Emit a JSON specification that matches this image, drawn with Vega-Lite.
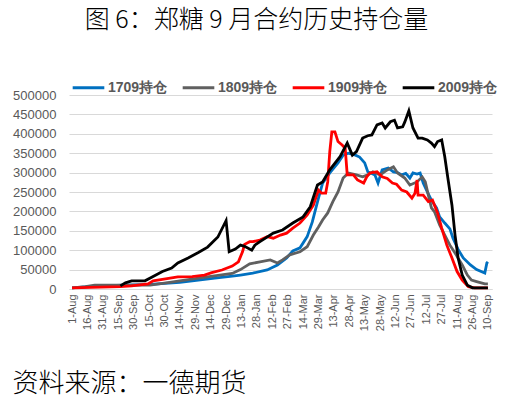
{
  "$schema": "https://vega.github.io/schema/vega-lite/v6.json",
  "width": 423,
  "height": 194,
  "autosize": "none",
  "padding": {"left": 69, "top": 95, "right": 20, "bottom": 109},
  "background": "white",
  "title": {
    "text": "图 6：郑糖 9 月合约历史持仓量",
    "font": "Noto Sans CJK SC",
    "fontSize": 25,
    "fontWeight": 300,
    "color": "#000000",
    "anchor": "middle",
    "frame": "group",
    "dx": -24,
    "offset": 37
  },
  "config": {
    "view": {"stroke": null},
    "axis": {
      "labelFont": "Liberation Sans",
      "labelColor": "#595959",
      "gridColor": "#d9d9d9",
      "gridWidth": 1,
      "domainColor": "#d9d9d9",
      "ticks": false
    }
  },
  "data": {
    "values": [
      {"series": "1709持仓", "date": "2018-08-01", "oi": 3000},
      {"series": "1709持仓", "date": "2018-08-28", "oi": 8000},
      {"series": "1709持仓", "date": "2018-10-16", "oi": 12000},
      {"series": "1709持仓", "date": "2018-11-14", "oi": 17000},
      {"series": "1709持仓", "date": "2018-12-18", "oi": 28000},
      {"series": "1709持仓", "date": "2019-01-04", "oi": 33000},
      {"series": "1709持仓", "date": "2019-01-12", "oi": 36000},
      {"series": "1709持仓", "date": "2019-01-24", "oi": 41000},
      {"series": "1709持仓", "date": "2019-02-07", "oi": 49000},
      {"series": "1709持仓", "date": "2019-02-17", "oi": 62000},
      {"series": "1709持仓", "date": "2019-02-26", "oi": 80000},
      {"series": "1709持仓", "date": "2019-03-04", "oi": 98000},
      {"series": "1709持仓", "date": "2019-03-11", "oi": 106000},
      {"series": "1709持仓", "date": "2019-03-18", "oi": 135000},
      {"series": "1709持仓", "date": "2019-03-23", "oi": 173000},
      {"series": "1709持仓", "date": "2019-03-26", "oi": 204000},
      {"series": "1709持仓", "date": "2019-03-29", "oi": 234000},
      {"series": "1709持仓", "date": "2019-04-02", "oi": 273000},
      {"series": "1709持仓", "date": "2019-04-09", "oi": 299000},
      {"series": "1709持仓", "date": "2019-04-17", "oi": 325000},
      {"series": "1709持仓", "date": "2019-04-22", "oi": 345000},
      {"series": "1709持仓", "date": "2019-04-27", "oi": 350000},
      {"series": "1709持仓", "date": "2019-05-04", "oi": 345000},
      {"series": "1709持仓", "date": "2019-05-08", "oi": 340000},
      {"series": "1709持仓", "date": "2019-05-13", "oi": 325000},
      {"series": "1709持仓", "date": "2019-05-16", "oi": 302000},
      {"series": "1709持仓", "date": "2019-05-23", "oi": 294000},
      {"series": "1709持仓", "date": "2019-05-26", "oi": 273000},
      {"series": "1709持仓", "date": "2019-05-30", "oi": 307000},
      {"series": "1709持仓", "date": "2019-06-05", "oi": 312000},
      {"series": "1709持仓", "date": "2019-06-10", "oi": 302000},
      {"series": "1709持仓", "date": "2019-06-14", "oi": 300000},
      {"series": "1709持仓", "date": "2019-06-18", "oi": 294000},
      {"series": "1709持仓", "date": "2019-06-22", "oi": 298000},
      {"series": "1709持仓", "date": "2019-06-26", "oi": 286000},
      {"series": "1709持仓", "date": "2019-06-29", "oi": 299000},
      {"series": "1709持仓", "date": "2019-07-03", "oi": 296000},
      {"series": "1709持仓", "date": "2019-07-06", "oi": 299000},
      {"series": "1709持仓", "date": "2019-07-09", "oi": 273000},
      {"series": "1709持仓", "date": "2019-07-13", "oi": 250000},
      {"series": "1709持仓", "date": "2019-07-17", "oi": 229000},
      {"series": "1709持仓", "date": "2019-07-22", "oi": 209000},
      {"series": "1709持仓", "date": "2019-07-25", "oi": 186000},
      {"series": "1709持仓", "date": "2019-07-30", "oi": 170000},
      {"series": "1709持仓", "date": "2019-08-04", "oi": 155000},
      {"series": "1709持仓", "date": "2019-08-07", "oi": 131000},
      {"series": "1709持仓", "date": "2019-08-12", "oi": 102000},
      {"series": "1709持仓", "date": "2019-08-17", "oi": 80000},
      {"series": "1709持仓", "date": "2019-08-24", "oi": 62000},
      {"series": "1709持仓", "date": "2019-08-30", "oi": 50000},
      {"series": "1709持仓", "date": "2019-09-07", "oi": 41000},
      {"series": "1709持仓", "date": "2019-09-09", "oi": 67000},
      {"series": "1709持仓", "date": "2019-09-10", "oi": 70000},

      {"series": "1809持仓", "date": "2018-08-01", "oi": 3000},
      {"series": "1809持仓", "date": "2018-08-14", "oi": 6000},
      {"series": "1809持仓", "date": "2018-08-23", "oi": 10000},
      {"series": "1809持仓", "date": "2018-10-16", "oi": 10000},
      {"series": "1809持仓", "date": "2018-11-04", "oi": 17000},
      {"series": "1809持仓", "date": "2018-12-02", "oi": 28000},
      {"series": "1809持仓", "date": "2019-01-04", "oi": 40000},
      {"series": "1809持仓", "date": "2019-01-12", "oi": 50000},
      {"series": "1809持仓", "date": "2019-01-21", "oi": 65000},
      {"series": "1809持仓", "date": "2019-01-31", "oi": 70000},
      {"series": "1809持仓", "date": "2019-02-10", "oi": 75000},
      {"series": "1809持仓", "date": "2019-02-17", "oi": 67000},
      {"series": "1809持仓", "date": "2019-02-22", "oi": 75000},
      {"series": "1809持仓", "date": "2019-03-01", "oi": 88000},
      {"series": "1809持仓", "date": "2019-03-11", "oi": 96000},
      {"series": "1809持仓", "date": "2019-03-18", "oi": 109000},
      {"series": "1809持仓", "date": "2019-03-24", "oi": 139000},
      {"series": "1809持仓", "date": "2019-03-29", "oi": 160000},
      {"series": "1809持仓", "date": "2019-04-02", "oi": 178000},
      {"series": "1809持仓", "date": "2019-04-07", "oi": 196000},
      {"series": "1809持仓", "date": "2019-04-12", "oi": 225000},
      {"series": "1809持仓", "date": "2019-04-17", "oi": 250000},
      {"series": "1809持仓", "date": "2019-04-22", "oi": 286000},
      {"series": "1809持仓", "date": "2019-04-27", "oi": 299000},
      {"series": "1809持仓", "date": "2019-05-05", "oi": 294000},
      {"series": "1809持仓", "date": "2019-05-11", "oi": 289000},
      {"series": "1809持仓", "date": "2019-05-16", "oi": 294000},
      {"series": "1809持仓", "date": "2019-05-21", "oi": 302000},
      {"series": "1809持仓", "date": "2019-05-28", "oi": 294000},
      {"series": "1809持仓", "date": "2019-06-04", "oi": 307000},
      {"series": "1809持仓", "date": "2019-06-10", "oi": 315000},
      {"series": "1809持仓", "date": "2019-06-14", "oi": 299000},
      {"series": "1809持仓", "date": "2019-06-21", "oi": 286000},
      {"series": "1809持仓", "date": "2019-06-26", "oi": 268000},
      {"series": "1809持仓", "date": "2019-07-03", "oi": 276000},
      {"series": "1809持仓", "date": "2019-07-08", "oi": 289000},
      {"series": "1809持仓", "date": "2019-07-11", "oi": 276000},
      {"series": "1809持仓", "date": "2019-07-14", "oi": 242000},
      {"series": "1809持仓", "date": "2019-07-17", "oi": 209000},
      {"series": "1809持仓", "date": "2019-07-20", "oi": 199000},
      {"series": "1809持仓", "date": "2019-07-25", "oi": 165000},
      {"series": "1809持仓", "date": "2019-07-30", "oi": 139000},
      {"series": "1809持仓", "date": "2019-08-04", "oi": 113000},
      {"series": "1809持仓", "date": "2019-08-09", "oi": 93000},
      {"series": "1809持仓", "date": "2019-08-16", "oi": 62000},
      {"series": "1809持仓", "date": "2019-08-21", "oi": 36000},
      {"series": "1809持仓", "date": "2019-08-25", "oi": 23000},
      {"series": "1809持仓", "date": "2019-08-30", "oi": 19000},
      {"series": "1809持仓", "date": "2019-09-07", "oi": 13000},
      {"series": "1809持仓", "date": "2019-09-10", "oi": 13000},

      {"series": "1909持仓", "date": "2018-08-01", "oi": 3000},
      {"series": "1909持仓", "date": "2018-09-17", "oi": 6000},
      {"series": "1909持仓", "date": "2018-09-28", "oi": 8000},
      {"series": "1909持仓", "date": "2018-10-14", "oi": 13000},
      {"series": "1909持仓", "date": "2018-10-19", "oi": 21000},
      {"series": "1909持仓", "date": "2018-10-31", "oi": 26000},
      {"series": "1909持仓", "date": "2018-11-12", "oi": 31000},
      {"series": "1909持仓", "date": "2018-11-26", "oi": 32000},
      {"series": "1909持仓", "date": "2018-12-08", "oi": 36000},
      {"series": "1909持仓", "date": "2018-12-15", "oi": 42000},
      {"series": "1909持仓", "date": "2018-12-25", "oi": 49000},
      {"series": "1909持仓", "date": "2019-01-04", "oi": 59000},
      {"series": "1909持仓", "date": "2019-01-10", "oi": 70000},
      {"series": "1909持仓", "date": "2019-01-14", "oi": 96000},
      {"series": "1909持仓", "date": "2019-01-16", "oi": 115000},
      {"series": "1909持仓", "date": "2019-01-21", "oi": 122000},
      {"series": "1909持仓", "date": "2019-01-24", "oi": 122000},
      {"series": "1909持仓", "date": "2019-01-31", "oi": 126000},
      {"series": "1909持仓", "date": "2019-02-07", "oi": 135000},
      {"series": "1909持仓", "date": "2019-02-13", "oi": 131000},
      {"series": "1909持仓", "date": "2019-02-20", "oi": 139000},
      {"series": "1909持仓", "date": "2019-02-26", "oi": 144000},
      {"series": "1909持仓", "date": "2019-03-04", "oi": 157000},
      {"series": "1909持仓", "date": "2019-03-11", "oi": 170000},
      {"series": "1909持仓", "date": "2019-03-18", "oi": 191000},
      {"series": "1909持仓", "date": "2019-03-24", "oi": 216000},
      {"series": "1909持仓", "date": "2019-03-29", "oi": 255000},
      {"series": "1909持仓", "date": "2019-04-01", "oi": 247000},
      {"series": "1909持仓", "date": "2019-04-05", "oi": 247000},
      {"series": "1909持仓", "date": "2019-04-07", "oi": 276000},
      {"series": "1909持仓", "date": "2019-04-09", "oi": 354000},
      {"series": "1909持仓", "date": "2019-04-11", "oi": 405000},
      {"series": "1909持仓", "date": "2019-04-14", "oi": 405000},
      {"series": "1909持仓", "date": "2019-04-17", "oi": 380000},
      {"series": "1909持仓", "date": "2019-04-21", "oi": 371000},
      {"series": "1909持仓", "date": "2019-04-24", "oi": 363000},
      {"series": "1909持仓", "date": "2019-04-26", "oi": 294000},
      {"series": "1909持仓", "date": "2019-05-02", "oi": 294000},
      {"series": "1909持仓", "date": "2019-05-06", "oi": 281000},
      {"series": "1909持仓", "date": "2019-05-12", "oi": 273000},
      {"series": "1909持仓", "date": "2019-05-15", "oi": 289000},
      {"series": "1909持仓", "date": "2019-05-18", "oi": 299000},
      {"series": "1909持仓", "date": "2019-05-25", "oi": 302000},
      {"series": "1909持仓", "date": "2019-05-30", "oi": 289000},
      {"series": "1909持仓", "date": "2019-06-04", "oi": 285000},
      {"series": "1909持仓", "date": "2019-06-09", "oi": 273000},
      {"series": "1909持仓", "date": "2019-06-13", "oi": 270000},
      {"series": "1909持仓", "date": "2019-06-18", "oi": 255000},
      {"series": "1909持仓", "date": "2019-06-23", "oi": 250000},
      {"series": "1909持仓", "date": "2019-06-28", "oi": 234000},
      {"series": "1909持仓", "date": "2019-07-01", "oi": 247000},
      {"series": "1909持仓", "date": "2019-07-03", "oi": 281000},
      {"series": "1909持仓", "date": "2019-07-04", "oi": 242000},
      {"series": "1909持仓", "date": "2019-07-09", "oi": 242000},
      {"series": "1909持仓", "date": "2019-07-14", "oi": 225000},
      {"series": "1909持仓", "date": "2019-07-18", "oi": 229000},
      {"series": "1909持仓", "date": "2019-07-23", "oi": 196000},
      {"series": "1909持仓", "date": "2019-07-27", "oi": 157000},
      {"series": "1909持仓", "date": "2019-08-01", "oi": 113000},
      {"series": "1909持仓", "date": "2019-08-06", "oi": 80000},
      {"series": "1909持仓", "date": "2019-08-11", "oi": 45000},
      {"series": "1909持仓", "date": "2019-08-16", "oi": 23000},
      {"series": "1909持仓", "date": "2019-08-22", "oi": 6000},
      {"series": "1909持仓", "date": "2019-08-28", "oi": 3000},
      {"series": "1909持仓", "date": "2019-09-10", "oi": 3000},

      {"series": "2009持仓", "date": "2018-09-17", "oi": 8000},
      {"series": "2009持仓", "date": "2018-09-22", "oi": 16000},
      {"series": "2009持仓", "date": "2018-09-28", "oi": 21000},
      {"series": "2009持仓", "date": "2018-10-11", "oi": 21000},
      {"series": "2009持仓", "date": "2018-10-18", "oi": 31000},
      {"series": "2009持仓", "date": "2018-10-28", "oi": 45000},
      {"series": "2009持仓", "date": "2018-11-06", "oi": 54000},
      {"series": "2009持仓", "date": "2018-11-12", "oi": 67000},
      {"series": "2009持仓", "date": "2018-11-22", "oi": 80000},
      {"series": "2009持仓", "date": "2018-12-02", "oi": 94000},
      {"series": "2009持仓", "date": "2018-12-11", "oi": 108000},
      {"series": "2009持仓", "date": "2018-12-21", "oi": 134000},
      {"series": "2009持仓", "date": "2018-12-29", "oi": 176000},
      {"series": "2009持仓", "date": "2019-01-01", "oi": 96000},
      {"series": "2009持仓", "date": "2019-01-07", "oi": 103000},
      {"series": "2009持仓", "date": "2019-01-12", "oi": 113000},
      {"series": "2009持仓", "date": "2019-01-16", "oi": 110000},
      {"series": "2009持仓", "date": "2019-01-23", "oi": 100000},
      {"series": "2009持仓", "date": "2019-01-26", "oi": 113000},
      {"series": "2009持仓", "date": "2019-01-31", "oi": 122000},
      {"series": "2009持仓", "date": "2019-02-13", "oi": 144000},
      {"series": "2009持仓", "date": "2019-02-22", "oi": 152000},
      {"series": "2009持仓", "date": "2019-03-04", "oi": 170000},
      {"series": "2009持仓", "date": "2019-03-14", "oi": 186000},
      {"series": "2009持仓", "date": "2019-03-21", "oi": 212000},
      {"series": "2009持仓", "date": "2019-03-28", "oi": 268000},
      {"series": "2009持仓", "date": "2019-04-02", "oi": 276000},
      {"series": "2009持仓", "date": "2019-04-09", "oi": 307000},
      {"series": "2009持仓", "date": "2019-04-19", "oi": 341000},
      {"series": "2009持仓", "date": "2019-04-26", "oi": 376000},
      {"series": "2009持仓", "date": "2019-05-01", "oi": 345000},
      {"series": "2009持仓", "date": "2019-05-05", "oi": 354000},
      {"series": "2009持仓", "date": "2019-05-11", "oi": 389000},
      {"series": "2009持仓", "date": "2019-05-16", "oi": 395000},
      {"series": "2009持仓", "date": "2019-05-20", "oi": 397000},
      {"series": "2009持仓", "date": "2019-05-25", "oi": 423000},
      {"series": "2009持仓", "date": "2019-05-30", "oi": 428000},
      {"series": "2009持仓", "date": "2019-06-02", "oi": 415000},
      {"series": "2009持仓", "date": "2019-06-07", "oi": 431000},
      {"series": "2009持仓", "date": "2019-06-11", "oi": 435000},
      {"series": "2009持仓", "date": "2019-06-14", "oi": 415000},
      {"series": "2009持仓", "date": "2019-06-19", "oi": 418000},
      {"series": "2009持仓", "date": "2019-06-21", "oi": 430000},
      {"series": "2009持仓", "date": "2019-06-25", "oi": 459000},
      {"series": "2009持仓", "date": "2019-06-29", "oi": 415000},
      {"series": "2009持仓", "date": "2019-07-04", "oi": 389000},
      {"series": "2009持仓", "date": "2019-07-08", "oi": 389000},
      {"series": "2009持仓", "date": "2019-07-13", "oi": 384000},
      {"series": "2009持仓", "date": "2019-07-17", "oi": 376000},
      {"series": "2009持仓", "date": "2019-07-20", "oi": 367000},
      {"series": "2009持仓", "date": "2019-07-23", "oi": 380000},
      {"series": "2009持仓", "date": "2019-07-27", "oi": 384000},
      {"series": "2009持仓", "date": "2019-07-30", "oi": 341000},
      {"series": "2009持仓", "date": "2019-08-02", "oi": 286000},
      {"series": "2009持仓", "date": "2019-08-06", "oi": 216000},
      {"series": "2009持仓", "date": "2019-08-09", "oi": 139000},
      {"series": "2009持仓", "date": "2019-08-12", "oi": 80000},
      {"series": "2009持仓", "date": "2019-08-16", "oi": 36000},
      {"series": "2009持仓", "date": "2019-08-21", "oi": 10000},
      {"series": "2009持仓", "date": "2019-08-26", "oi": 3000},
      {"series": "2009持仓", "date": "2019-09-10", "oi": 3000}
    ]
  },
  "mark": {"type": "line", "strokeWidth": 2.8},
  "encoding": {
    "x": {
      "field": "date",
      "type": "temporal",
      "scale": {
        "domain": [
          {"year": 2018, "month": 7, "date": 29},
          {"year": 2019, "month": 9, "date": 14}
        ]
      },
      "axis": {
        "values": [
          {"year": 2018, "month": 8, "date": 1},
          {"year": 2018, "month": 8, "date": 16},
          {"year": 2018, "month": 8, "date": 31},
          {"year": 2018, "month": 9, "date": 15},
          {"year": 2018, "month": 9, "date": 30},
          {"year": 2018, "month": 10, "date": 15},
          {"year": 2018, "month": 10, "date": 30},
          {"year": 2018, "month": 11, "date": 14},
          {"year": 2018, "month": 11, "date": 29},
          {"year": 2018, "month": 12, "date": 14},
          {"year": 2018, "month": 12, "date": 29},
          {"year": 2019, "month": 1, "date": 13},
          {"year": 2019, "month": 1, "date": 28},
          {"year": 2019, "month": 2, "date": 12},
          {"year": 2019, "month": 2, "date": 27},
          {"year": 2019, "month": 3, "date": 14},
          {"year": 2019, "month": 3, "date": 29},
          {"year": 2019, "month": 4, "date": 13},
          {"year": 2019, "month": 4, "date": 28},
          {"year": 2019, "month": 5, "date": 13},
          {"year": 2019, "month": 5, "date": 28},
          {"year": 2019, "month": 6, "date": 12},
          {"year": 2019, "month": 6, "date": 27},
          {"year": 2019, "month": 7, "date": 12},
          {"year": 2019, "month": 7, "date": 27},
          {"year": 2019, "month": 8, "date": 11},
          {"year": 2019, "month": 8, "date": 26},
          {"year": 2019, "month": 9, "date": 10}
        ],
        "format": "%-d-%b",
        "labelAngle": -90,
        "labelFontSize": 11,
        "labelPadding": 5,
        "labelOverlap": false,
        "labelBound": false,
        "labelFlush": false,
        "grid": false,
        "domain": true,
        "title": "资料来源：一德期货",
        "titleFont": "Noto Sans CJK SC",
        "titleFontSize": 26,
        "titleFontWeight": 300,
        "titleColor": "#000000",
        "titleAlign": "left",
        "titleAnchor": null,
        "titleBaseline": "alphabetic",
        "titleX": -57,
        "titleY": 102
      }
    },
    "y": {
      "field": "oi",
      "type": "quantitative",
      "scale": {"domain": [0, 500000], "nice": false},
      "axis": {
        "values": [0, 50000, 100000, 150000, 200000, 250000, 300000, 350000, 400000, 450000, 500000],
        "format": "d",
        "labelFontSize": 13,
        "labelPadding": 13,
        "domain": false,
        "grid": true,
        "title": null
      }
    },
    "color": {
      "field": "series",
      "type": "nominal",
      "scale": {
        "domain": ["1709持仓", "1809持仓", "1909持仓", "2009持仓"],
        "range": ["#0070C0", "#606060", "#FF0000", "#000000"]
      },
      "legend": {
        "orient": "none",
        "legendX": 2,
        "legendY": -25,
        "direction": "horizontal",
        "title": null,
        "symbolType": "stroke",
        "symbolSize": 1000,
        "symbolStrokeWidth": 3,
        "labelFont": "Liberation Sans",
        "labelFontSize": 14,
        "labelFontWeight": "bold",
        "labelColor": "#595959",
        "labelOffset": 2,
        "columnPadding": 8
      }
    }
  }
}
